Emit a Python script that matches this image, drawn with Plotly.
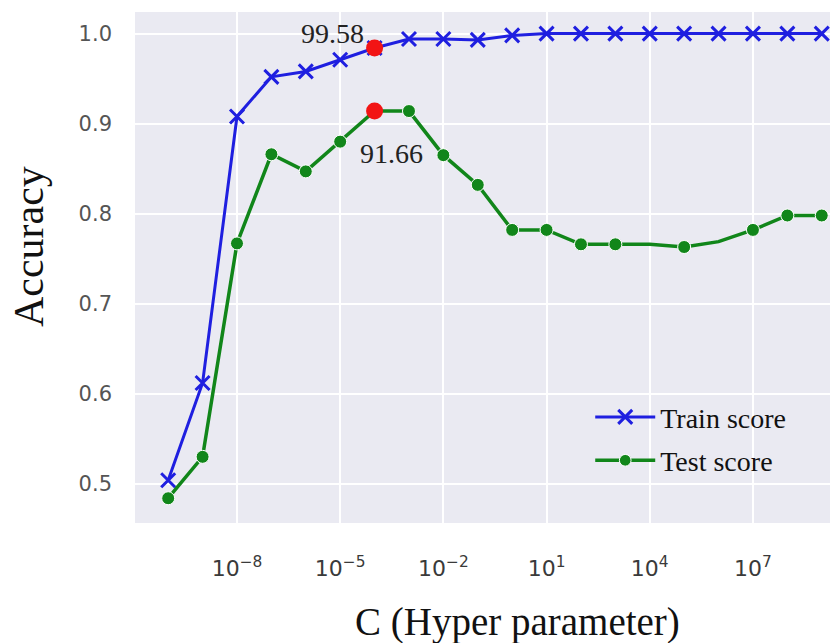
import math
import plotly.graph_objects as go

# ---- data ----
c_values = [1e-10, 1e-9, 1e-8, 1e-7, 1e-6, 1e-5, 1e-4, 1e-3, 1e-2, 1e-1,
            1e0, 1e1, 1e2, 1e3, 1e4, 1e5, 1e6, 1e7, 1e8, 1e9]
train_score = [0.504, 0.612, 0.908, 0.952, 0.958, 0.971, 0.984, 0.994, 0.994, 0.993,
               0.998, 1.000, 1.000, 1.000, 1.000, 1.000, 1.000, 1.000, 1.000, 1.000]
test_score = [0.484, 0.530, 0.767, 0.866, 0.847, 0.880, 0.914, 0.914, 0.865, 0.832,
              0.782, 0.782, 0.766, 0.766, 0.766, 0.763, 0.769, 0.782, 0.798, 0.798]
best_c = 1e-4
best_train_label = "99.58"
best_test_label = "91.66"
x_tick_values = [1e-8, 1e-5, 1e-2, 1e1, 1e4, 1e7]
x_tick_labels = ["10<sup>\u22128</sup>", "10<sup>\u22125</sup>", "10<sup>\u22122</sup>",
                 "10<sup>1</sup>", "10<sup>4</sup>", "10<sup>7</sup>"]
y_tick_values = [0.5, 0.6, 0.7, 0.8, 0.9, 1.0]
y_tick_labels = ["0.5", "0.6", "0.7", "0.8", "0.9", "1.0"]
test_hidden_markers = [1e4, 1e6]  # markers not visible in the reference

BLUE = "#1f1fe0"
GREEN = "#11861a"
RED = "#f21414"
SERIF = "Liberation Serif, Times New Roman, serif"
SANS = "DejaVu Sans, sans-serif"

best_idx = c_values.index(best_c)
test_sizes = [0 if c in test_hidden_markers else 13 for c in c_values]

fig = go.Figure()
fig.add_trace(go.Scatter(
    x=c_values, y=train_score, name="Train score", mode="lines+markers",
    line=dict(color=BLUE, width=3),
    marker=dict(symbol="x-thin", size=14, color=BLUE, opacity=1,
                line=dict(color=BLUE, width=3)),
    legendgroup="a",
))
fig.add_trace(go.Scatter(
    x=c_values, y=test_score, name="Test score", mode="lines+markers",
    line=dict(color=GREEN, width=3.5),
    marker=dict(symbol="circle", size=test_sizes, color=GREEN, opacity=1),
    legendgroup="b",
))
fig.add_trace(go.Scatter(
    x=[best_c, best_c], y=[train_score[best_idx], test_score[best_idx]],
    mode="markers", showlegend=False,
    marker=dict(symbol="circle", size=17, color=RED, opacity=1),
))

fig.add_annotation(x=math.log10(best_c), y=train_score[best_idx], text=best_train_label,
                   showarrow=False, xanchor="right", yanchor="middle", xshift=-9, yshift=15,
                   font=dict(family=SERIF, size=28, color="#222"))
fig.add_annotation(x=math.log10(best_c), y=test_score[best_idx], text=best_test_label,
                   showarrow=False, xanchor="center", yanchor="middle", xshift=17, yshift=-42,
                   font=dict(family=SERIF, size=28, color="#222"))

# axis titles
fig.add_annotation(xref="paper", yref="paper", x=0.551, y=-0.194, text="C (Hyper parameter)",
                   showarrow=False, xanchor="center", yanchor="middle",
                   font=dict(family=SERIF, size=39, color="#111"))
fig.add_annotation(xref="paper", yref="paper", x=-0.1525, y=0.540, text="Accuracy",
                   showarrow=False, xanchor="center", yanchor="middle", textangle=-90,
                   font=dict(family=SERIF, size=42, color="#111"))

fig.update_layout(
    width=830, height=643,
    margin=dict(l=135, r=0, t=12, b=120),
    paper_bgcolor="white", plot_bgcolor="#EAEAF2",
    showlegend=True,
    legend=dict(x=0.655, y=0.165, xanchor="left", yanchor="middle",
                bgcolor="rgba(0,0,0,0)", font=dict(family=SERIF, size=28, color="#111"),
                itemwidth=60, tracegroupgap=4),
)
fig.update_xaxes(type="log", range=[-10.965, 9.24], tickvals=x_tick_values, ticktext=x_tick_labels,
                 showgrid=True, gridcolor="white", gridwidth=2, zeroline=False, showline=False,
                 ticks="", ticklabelstandoff=30,
                 tickfont=dict(family=SANS, size=22, color="#3a3a3a"))
fig.update_yaxes(range=[0.4565, 1.024], tickvals=y_tick_values, ticktext=y_tick_labels,
                 showgrid=True, gridcolor="white", gridwidth=2, zeroline=False, showline=False,
                 ticks="", ticklabelstandoff=22,
                 tickfont=dict(family=SANS, size=21, color="#555"))

fig.write_html("out.html", config={"displayModeBar": False},
               post_script="document.body.style.margin='0';document.body.style.overflow='hidden';")
